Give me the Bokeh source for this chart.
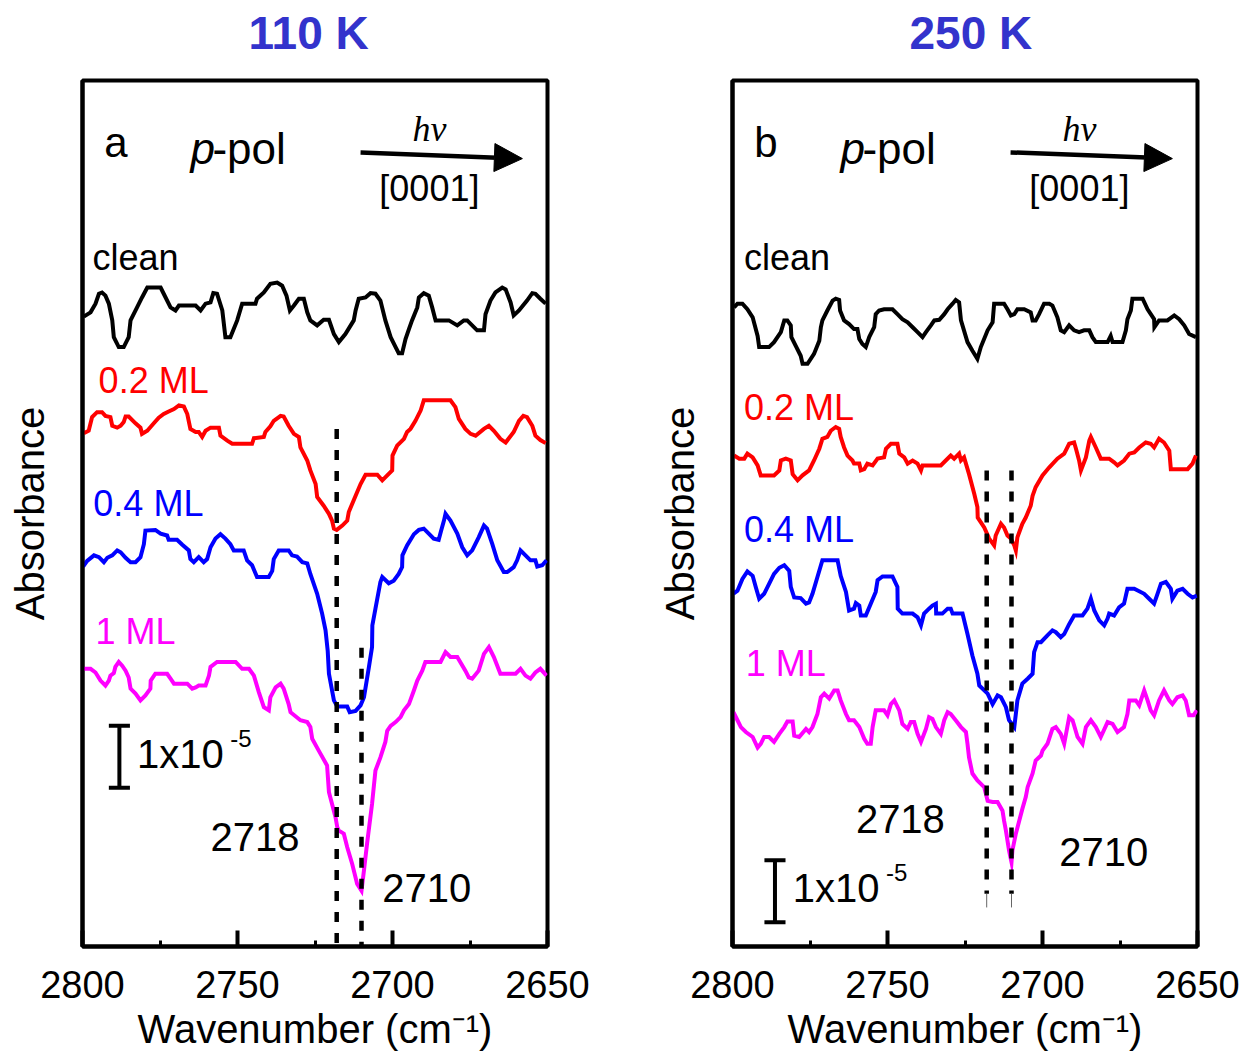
from bokeh.plotting import figure
from bokeh.layouts import row
from bokeh.models import Range1d, FixedTicker, Label, Arrow, NormalHead, Title
from bokeh.embed import file_html
from bokeh.resources import INLINE

# Absorbance is in units of 1e-6 (the scale bar spans 10 units = 1x10^-5);
# each spectrum already carries its vertical offset.

# ---------------- (a) 110 K ----------------
clean_a_wn = [2799.6, 2797.4, 2795.8, 2794.7, 2793.7, 2792.6, 2791.5, 2790.4, 2789.9, 2788.3,
              2786.7, 2785.1, 2784.5, 2782.4, 2780.8, 2779.1, 2774.8, 2773.8, 2771.6, 2770.0,
              2768.9, 2763.5, 2761.9, 2760.3, 2758.7, 2757.8, 2756.6, 2754.9, 2753.9, 2752.3,
              2750.1, 2748.5, 2744.2, 2743.7, 2741.5, 2739.4, 2737.2, 2735.6, 2734.2, 2733.1,
              2731.8, 2730.2, 2728.6, 2727.5, 2726.5, 2724.3, 2722.2, 2720.5, 2718.9, 2717.3,
              2715.2, 2712.5, 2711.9, 2710.9, 2708.7, 2707.1, 2705.5, 2703.9, 2702.3, 2700.6,
              2699.0, 2698.0, 2696.9, 2695.8, 2694.7, 2693.7, 2692.0, 2691.5, 2689.9, 2688.3,
              2687.2, 2686.1, 2681.8, 2679.1, 2677.0, 2675.9, 2672.7, 2670.5, 2670.0, 2668.4,
              2666.8, 2664.6, 2663.5, 2661.9, 2660.9, 2659.2, 2656.6, 2654.9, 2653.9, 2652.3,
              2650.6]
clean_a = [101.6, 102.3, 103.7, 105.3, 105.5, 105.0, 103.7, 101.0, 98.3, 96.7,
           96.7, 98.3, 101.0, 103.1, 104.7, 106.3, 106.3, 105.3, 103.1, 102.6,
           103.4, 103.4, 102.6, 103.7, 103.9, 105.4, 105.3, 102.6, 98.3, 98.3,
           101.0, 103.7, 103.7, 104.5, 105.5, 106.9, 107.1, 106.6, 105.0, 102.6,
           103.4, 104.5, 104.5, 102.3, 101.0, 100.2, 101.1, 101.1, 98.8, 97.5,
           98.8, 101.0, 102.6, 104.5, 104.7, 105.4, 105.3, 104.2, 101.0, 98.3,
           96.7, 95.7, 95.7, 98.0, 99.6, 101.0, 103.1, 104.7, 105.4, 105.0,
           103.1, 101.0, 101.0, 100.2, 101.0, 101.0, 99.4, 99.4, 102.0, 104.2,
           105.5, 106.3, 106.0, 103.9, 101.8, 102.6, 104.2, 105.4, 105.3, 104.5,
           103.7]

ml02_a_wn = [2799.6, 2798.0, 2796.9, 2795.3, 2793.7, 2792.6, 2791.0, 2790.4, 2788.8, 2787.7,
             2786.7, 2786.1, 2785.1, 2782.9, 2781.3, 2780.8, 2779.1, 2777.0, 2775.4, 2773.8,
             2772.2, 2770.5, 2768.9, 2767.3, 2766.2, 2765.2, 2763.5, 2762.5, 2761.4, 2760.3,
             2758.7, 2756.0, 2755.5, 2753.3, 2751.7, 2745.3, 2744.7, 2741.5, 2741.0, 2739.4,
             2738.3, 2736.1, 2735.1, 2733.5, 2731.8, 2730.2, 2729.7, 2727.5, 2726.5, 2724.8,
             2724.3, 2722.2, 2720.5, 2719.5, 2718.9, 2718.0, 2716.2, 2714.6, 2714.1, 2711.9,
             2710.3, 2708.7, 2704.9, 2703.3, 2701.7, 2700.1, 2700.0, 2698.5, 2696.3, 2695.3,
             2694.2, 2692.6, 2690.9, 2689.9, 2681.3, 2679.7, 2678.6, 2676.5, 2674.8, 2673.2,
             2670.5, 2668.9, 2667.3, 2665.2, 2663.5, 2660.9, 2659.2, 2657.8, 2656.6, 2654.9,
             2653.9, 2652.3, 2650.6]
ml02_a = [82.8, 83.2, 85.4, 86.2, 86.2, 85.6, 85.4, 84.0, 83.7, 84.0,
          84.6, 85.5, 85.5, 84.4, 83.7, 82.7, 83.2, 84.4, 85.3, 85.9,
          86.3, 86.7, 87.3, 87.1, 85.9, 83.5, 83.0, 83.0, 82.2, 83.2,
          83.7, 83.7, 82.4, 81.6, 81.1, 81.1, 82.0, 82.2, 83.0, 83.9,
          84.8, 85.6, 85.5, 84.0, 82.7, 82.2, 80.5, 78.4, 76.8, 74.6,
          72.5, 71.1, 69.8, 68.7, 67.4, 67.2, 67.9, 68.7, 70.1, 72.7,
          74.6, 76.1, 76.1, 75.2, 76.0, 76.8, 79.2, 80.8, 81.9, 83.0,
          83.5, 84.8, 86.5, 88.1, 88.1, 87.0, 85.1, 83.5, 82.7, 82.4,
          83.5, 84.0, 83.2, 81.9, 81.3, 83.0, 84.8, 85.6, 85.4, 84.0,
          82.4, 81.7, 81.2]

ml04_a_wn = [2799.8, 2798.5, 2796.3, 2794.7, 2793.1, 2792.0, 2790.4, 2788.8, 2787.7, 2786.1,
             2784.5, 2782.9, 2781.3, 2780.2, 2779.7, 2776.5, 2774.8, 2772.7, 2772.2, 2769.5,
             2767.8, 2765.7, 2765.2, 2764.1, 2762.5, 2760.9, 2759.8, 2758.7, 2757.1, 2755.5,
             2753.9, 2752.3, 2751.2, 2748.0, 2746.9, 2745.3, 2743.7, 2739.9, 2738.8, 2738.3,
             2736.7, 2733.5, 2732.4, 2730.8, 2729.1, 2727.5, 2726.5, 2724.3, 2722.7, 2721.6,
             2720.9, 2720.5, 2718.9, 2717.8, 2714.6, 2713.8, 2711.9, 2710.3, 2709.2, 2707.6,
             2706.6, 2706.5, 2705.5, 2703.9, 2703.3, 2701.2, 2699.6, 2698.0, 2696.9, 2696.8,
             2695.3, 2693.1, 2691.5, 2689.9, 2688.3, 2686.7, 2685.1, 2684.3, 2683.4, 2682.9,
             2681.3, 2679.1, 2677.5, 2675.9, 2674.3, 2672.2, 2670.5, 2669.5, 2667.8, 2666.2,
             2664.1, 2663.0, 2660.9, 2659.8, 2658.7, 2657.1, 2655.5, 2653.9, 2653.3, 2651.7,
             2650.3]
ml04_a = [61.3, 62.2, 63.1, 62.8, 62.0, 62.7, 63.1, 63.9, 63.6, 62.7,
          62.0, 62.0, 62.8, 64.9, 67.1, 67.2, 66.6, 66.3, 65.6, 65.6,
          64.8, 63.9, 62.5, 62.0, 62.8, 62.0, 62.5, 64.4, 65.8, 66.5,
          65.8, 64.9, 63.9, 63.9, 62.3, 61.5, 59.6, 59.6, 60.6, 62.5,
          63.9, 63.9, 63.1, 62.9, 62.0, 61.8, 60.1, 56.9, 53.7, 51.0,
          47.7, 44.0, 39.7, 38.7, 38.7, 37.8, 38.0, 38.9, 40.2, 45.1,
          48.3, 51.8, 54.5, 58.8, 59.6, 58.6, 59.0, 60.1, 61.2, 63.1,
          64.7, 66.5, 67.2, 67.4, 66.6, 65.8, 65.6, 67.1, 68.7, 69.8,
          68.7, 66.6, 64.4, 63.1, 63.9, 66.0, 67.9, 67.4, 64.9, 62.3,
          60.4, 60.4, 61.2, 62.3, 63.9, 63.1, 62.3, 62.3, 61.3, 61.5,
          62.3]

ml1_a_wn = [2799.8, 2797.4, 2795.8, 2794.2, 2792.6, 2791.5, 2791.0, 2789.9, 2789.4, 2788.3,
            2787.2, 2786.1, 2785.1, 2784.5, 2782.9, 2781.3, 2779.7, 2778.1, 2778.0, 2776.5,
            2772.7, 2771.6, 2770.5, 2766.2, 2764.6, 2763.5, 2762.5, 2760.3, 2759.2, 2758.7,
            2756.6, 2750.6, 2748.5, 2746.3, 2744.7, 2743.1, 2741.5, 2739.9, 2739.4, 2737.7,
            2736.1, 2735.1, 2733.5, 2732.9, 2729.7, 2727.5, 2726.5, 2725.9, 2723.8, 2721.1,
            2720.5, 2718.4, 2717.8, 2717.3, 2715.7, 2714.6, 2713.0, 2711.4, 2710.0, 2709.2,
            2708.2, 2706.6, 2705.5, 2703.9, 2702.3, 2701.7, 2700.6, 2699.0, 2697.4, 2696.3,
            2694.7, 2693.1, 2692.0, 2690.4, 2689.4, 2684.5, 2682.9, 2681.3, 2679.1, 2676.5,
            2675.4, 2674.3, 2672.2, 2670.5, 2668.9, 2667.3, 2665.2, 2660.3, 2658.7, 2657.1,
            2655.5, 2653.9, 2652.3, 2650.3]
ml1_a = [44.8, 44.8, 44.2, 42.9, 42.1, 42.9, 43.7, 44.1, 45.1, 45.9,
         45.3, 44.5, 43.4, 41.6, 40.8, 39.7, 40.5, 41.6, 42.9, 44.0,
         44.0, 43.2, 42.4, 42.4, 41.6, 41.8, 42.1, 42.1, 43.7, 45.1,
         45.9, 45.9, 44.8, 44.8, 43.7, 41.0, 38.6, 38.1, 40.2, 41.8,
         42.4, 41.6, 39.1, 37.8, 36.5, 36.2, 35.4, 33.5, 31.6, 29.2,
         24.9, 20.9, 19.2, 18.7, 18.2, 16.0, 13.3, 10.1, 9.0, 12.3,
         16.6, 23.0, 28.4, 30.5, 33.0, 34.8, 35.6, 36.2, 37.0, 38.1,
         39.1, 41.3, 42.9, 44.5, 45.9, 45.9, 47.5, 46.7, 46.7, 44.5,
         43.4, 43.2, 44.5, 47.2, 48.3, 46.7, 44.0, 44.0, 44.8, 43.7,
         43.2, 44.2, 44.8, 43.7]

# ---------------- (b) 250 K ----------------
clean_b_wn = [2799.5, 2798.4, 2796.8, 2795.2, 2793.5, 2791.9, 2791.4, 2788.2, 2786.6, 2784.4,
              2783.3, 2782.3, 2781.2, 2781.0, 2779.6, 2778.0, 2777.4, 2775.8, 2773.7, 2772.0,
              2771.5, 2771.0, 2769.4, 2767.7, 2766.7, 2765.6, 2765.3, 2764.0, 2762.4, 2760.8,
              2759.7, 2759.1, 2758.1, 2757.0, 2755.9, 2754.3, 2753.8, 2752.7, 2751.1, 2748.4,
              2746.8, 2745.2, 2743.5, 2741.9, 2740.3, 2738.7, 2737.6, 2736.0, 2734.9, 2733.3,
              2731.7, 2730.6, 2729.0, 2728.0, 2726.9, 2726.3, 2724.2, 2722.6, 2721.0, 2719.9,
              2717.7, 2716.1, 2715.6, 2712.4, 2711.3, 2710.2, 2709.1, 2708.1, 2705.9, 2703.8,
              2703.2, 2702.2, 2701.1, 2699.5, 2697.8, 2696.8, 2695.2, 2694.1, 2693.0, 2691.4,
              2689.8, 2688.2, 2686.6, 2684.9, 2683.9, 2682.8, 2679.0, 2678.0, 2677.4, 2674.2,
              2673.1, 2672.6, 2671.5, 2671.0, 2667.7, 2666.1, 2664.0, 2663.9, 2662.4, 2659.7,
              2657.5, 2655.9, 2654.3, 2652.7, 2650.5]
clean_b = [103.1, 103.7, 103.7, 102.8, 101.5, 98.5, 96.7, 96.7, 97.5, 99.1,
           101.0, 101.0, 100.2, 98.3, 96.9, 95.3, 94.0, 94.0, 95.6, 97.7,
           99.9, 101.0, 102.6, 104.2, 104.5, 104.3, 102.6, 101.0, 100.4, 99.6,
           99.6, 98.0, 97.2, 96.7, 98.3, 99.9, 102.0, 102.6, 102.8, 102.8,
           102.0, 101.2, 100.7, 99.9, 99.1, 98.3, 99.1, 100.2, 101.0, 101.1,
           102.0, 102.8, 103.7, 104.3, 103.9, 101.0, 97.5, 96.1, 94.8, 96.7,
           99.4, 100.7, 103.7, 103.7, 102.8, 101.8, 102.0, 102.8, 102.8, 102.3,
           101.0, 101.0, 102.0, 103.7, 103.7, 103.4, 101.5, 99.4, 99.1, 100.2,
           99.4, 99.1, 99.4, 99.4, 98.3, 97.5, 97.5, 98.5, 97.5, 97.5,
           99.4, 101.2, 102.6, 104.5, 104.5, 102.8, 101.2, 99.9, 101.0, 101.0,
           101.8, 101.2, 100.2, 98.8, 98.3]

ml02_b_wn = [2799.5, 2797.8, 2796.2, 2795.2, 2793.5, 2791.9, 2790.9, 2786.6, 2784.9, 2784.4,
             2782.8, 2781.2, 2780.6, 2779.0, 2777.4, 2775.3, 2773.7, 2772.0, 2771.0, 2769.4,
             2768.3, 2766.7, 2765.6, 2765.1, 2764.0, 2762.9, 2761.3, 2760.8, 2759.1, 2758.6,
             2757.5, 2756.5, 2754.8, 2753.2, 2751.1, 2750.5, 2748.9, 2746.8, 2746.2, 2744.6,
             2743.5, 2741.9, 2740.3, 2739.2, 2738.7, 2732.8, 2731.2, 2729.6, 2728.5, 2726.9,
             2726.3, 2725.3, 2723.7, 2722.0, 2721.0, 2720.9, 2718.8, 2717.2, 2715.6, 2715.1,
             2713.4, 2712.4, 2711.3, 2710.2, 2709.1, 2708.6, 2708.1, 2706.5, 2705.4, 2703.8,
             2703.2, 2702.2, 2700.0, 2697.8, 2695.2, 2693.0, 2691.4, 2689.8, 2689.2, 2688.2,
             2687.6, 2686.0, 2684.9, 2684.4, 2682.8, 2681.2, 2678.5, 2676.9, 2675.8, 2673.7,
             2672.0, 2670.4, 2668.8, 2666.7, 2665.1, 2664.0, 2662.4, 2660.8, 2659.1, 2658.6,
             2653.2, 2651.6, 2650.5]
ml02_b = [79.2, 78.7, 78.7, 79.5, 78.9, 77.6, 76.0, 76.0, 76.8, 78.4,
          78.7, 78.4, 76.2, 75.2, 76.0, 76.8, 78.4, 80.3, 81.9, 82.2,
          83.2, 83.8, 83.5, 82.2, 80.5, 79.2, 78.4, 77.9, 77.9, 76.8,
          77.0, 77.9, 77.6, 78.7, 78.9, 80.3, 81.1, 81.1, 79.5, 78.9,
          77.9, 78.4, 77.9, 76.8, 77.6, 77.6, 78.4, 79.2, 78.7, 79.5,
          78.4, 78.9, 76.2, 73.0, 70.9, 69.2, 67.6, 65.8, 64.7, 66.3,
          68.2, 67.6, 66.3, 65.8, 64.7, 63.9, 66.0, 68.2, 69.2, 71.1,
          72.7, 74.1, 76.0, 77.3, 78.7, 79.5, 81.1, 81.3, 80.3, 78.4,
          76.8, 78.9, 81.6, 82.2, 80.5, 78.7, 78.7, 78.1, 77.6, 78.4,
          79.5, 79.7, 80.5, 81.3, 81.1, 80.5, 81.9, 81.3, 80.0, 77.0,
          77.0, 77.9, 79.2]

ml04_b_wn = [2799.7, 2798.4, 2796.8, 2795.2, 2793.5, 2792.5, 2791.4, 2789.8, 2788.2, 2786.6,
             2784.9, 2783.3, 2781.7, 2781.2, 2780.1, 2778.0, 2776.3, 2775.3, 2774.2, 2772.6,
             2771.0, 2766.1, 2765.1, 2763.4, 2762.4, 2760.8, 2760.2, 2759.1, 2758.6, 2757.0,
             2755.4, 2753.8, 2753.2, 2751.6, 2748.4, 2746.8, 2746.7, 2745.2, 2741.9, 2740.3,
             2739.2, 2738.2, 2736.6, 2735.5, 2734.4, 2734.3, 2732.3, 2730.6, 2729.6, 2729.0,
             2725.8, 2724.2, 2722.6, 2721.0, 2720.4, 2717.7, 2716.1, 2714.5, 2713.4, 2711.8,
             2710.8, 2709.1, 2708.6, 2708.1, 2706.5, 2704.8, 2703.2, 2702.7, 2701.6, 2700.5,
             2698.4, 2696.8, 2695.7, 2694.1, 2693.0, 2691.4, 2689.8, 2687.1, 2685.5, 2684.4,
             2683.3, 2681.7, 2680.1, 2679.0, 2678.5, 2676.9, 2675.3, 2673.7, 2672.6, 2670.4,
             2667.2, 2665.6, 2664.0, 2662.9, 2661.8, 2660.2, 2658.6, 2658.1, 2656.5, 2654.8,
             2653.2, 2651.6, 2650.2]
ml04_b = [56.9, 57.4, 59.3, 60.5, 59.8, 58.0, 56.1, 56.9, 58.5, 60.1,
          61.1, 61.5, 60.6, 58.0, 56.3, 56.2, 55.3, 55.5, 56.9, 59.6,
          62.3, 62.3, 59.8, 57.2, 54.2, 54.5, 55.4, 55.0, 53.4, 53.4,
          55.3, 57.2, 59.1, 59.7, 59.7, 58.0, 54.5, 53.7, 53.7, 53.1,
          51.8, 53.7, 54.5, 55.0, 55.3, 53.7, 53.7, 54.5, 54.5, 53.7,
          53.7, 50.4, 46.9, 44.0, 42.1, 40.8, 39.1, 40.5, 40.2, 38.6,
          36.5, 35.4, 37.5, 39.7, 42.4, 43.2, 44.0, 47.5, 49.1, 49.1,
          50.2, 51.0, 50.7, 49.9, 50.4, 52.0, 53.4, 53.4, 54.5, 56.1,
          54.2, 52.6, 51.8, 52.9, 53.7, 53.4, 54.7, 55.3, 57.7, 57.7,
          56.9, 56.1, 55.3, 56.9, 58.5, 58.8, 57.7, 56.1, 57.4, 57.7,
          56.9, 56.3, 56.6]

ml1_b_wn = [2799.7, 2798.4, 2797.3, 2795.7, 2793.5, 2791.9, 2790.9, 2789.8, 2788.2, 2786.6,
            2784.9, 2783.3, 2782.3, 2780.6, 2780.1, 2778.5, 2776.3, 2775.3, 2774.2, 2772.6,
            2771.5, 2770.4, 2768.8, 2767.2, 2766.1, 2765.1, 2763.4, 2762.4, 2760.8, 2759.1,
            2757.5, 2756.5, 2755.4, 2754.8, 2753.8, 2751.1, 2750.0, 2748.9, 2747.8, 2746.2,
            2745.2, 2743.5, 2742.5, 2741.4, 2740.3, 2739.2, 2737.6, 2736.6, 2735.5, 2734.4,
            2732.8, 2731.7, 2730.6, 2729.6, 2728.0, 2726.3, 2724.7, 2724.2, 2723.7, 2722.6,
            2721.0, 2718.8, 2717.7, 2716.1, 2714.5, 2712.9, 2712.4, 2711.8, 2710.8, 2710.0,
            2709.7, 2708.6, 2707.5, 2706.5, 2705.4, 2704.8, 2703.2, 2702.2, 2700.5, 2700.0,
            2698.4, 2696.8, 2695.7, 2694.1, 2693.0, 2691.4, 2690.3, 2688.7, 2687.1, 2686.0,
            2684.4, 2682.8, 2681.2, 2679.0, 2677.4, 2675.8, 2673.7, 2672.6, 2672.0, 2669.9,
            2668.8, 2667.2, 2666.1, 2665.1, 2664.0, 2662.4, 2660.8, 2659.1, 2658.1, 2656.5,
            2654.8, 2653.8, 2652.7, 2651.3, 2650.2]
ml1_b = [37.8, 36.5, 35.4, 34.6, 33.8, 32.1, 32.7, 33.8, 33.8, 33.0,
         34.3, 35.4, 36.3, 36.3, 34.0, 33.8, 35.1, 34.6, 35.4, 37.5,
         40.2, 40.8, 40.0, 41.3, 41.3, 39.7, 37.5, 36.5, 36.5, 35.4,
         33.5, 32.7, 32.7, 35.4, 38.1, 38.1, 37.3, 39.1, 39.7, 38.1,
         35.9, 35.1, 36.2, 36.2, 34.3, 33.0, 35.1, 37.0, 36.7, 35.4,
         34.3, 36.5, 37.8, 37.5, 36.5, 35.4, 34.6, 32.7, 30.5, 27.9,
         26.8, 25.7, 23.5, 23.3, 23.3, 21.9, 20.3, 18.7, 15.5, 13.6,
         15.5, 18.2, 20.3, 22.2, 24.1, 25.7, 27.9, 30.0, 30.8, 31.6,
         32.7, 35.1, 35.4, 34.3, 32.7, 37.0, 36.5, 33.8, 32.7, 35.4,
         36.5, 35.4, 33.8, 36.2, 35.9, 34.6, 35.4, 37.5, 39.7, 39.7,
         38.9, 41.3, 39.7, 38.1, 37.3, 39.7, 41.3, 39.7, 39.1, 40.2,
         40.5, 39.7, 37.3, 37.3, 38.1]

# Shared axis settings
wn_ticks = [2800, 2750, 2700, 2650]
wn_minor = [2775, 2725, 2675]
peak_wn = [2718, 2710]
series_names = ["clean", "0.2 ML", "0.4 ML", "1 ML"]
series_colors = ["#000000", "#ff0000", "#0000ff", "#ff00ff"]

FONT = "Liberation Sans"


def text(p, x, y, s, size, color="black", align="left", baseline="alphabetic",
         font=FONT, style="normal"):
    p.add_layout(Label(x=x, y=y, text=s, text_font=font, text_font_size=size,
                       text_color=color, text_align=align, text_baseline=baseline,
                       text_font_style=style))


def panel(title, title_offset, letter, curves, name_pos, bar, peak_pos, dash_top, dash_bottom,
          width, border_left):
    p = figure(frame_width=465, frame_height=866, width=width,
               x_range=Range1d(2800, 2650), y_range=Range1d(0, 139.7),
               output_backend="svg", toolbar_location=None,
               min_border_left=border_left, min_border_right=width - border_left - 465,
               min_border_top=80, min_border_bottom=109,
               background_fill_color="white", border_fill_color="white")
    p.grid.visible = False
    p.outline_line_color = "black"
    p.outline_line_width = 4
    p.outline_line_alpha = 1

    # temperature heading, kept clear of the frame by an empty spacer line
    p.title.text = title
    p.title.align = "left"
    p.title.offset = title_offset
    p.title.text_font = FONT
    p.title.text_font_size = "46px"
    p.title.text_font_style = "bold"
    p.title.text_color = "#3333cc"
    p.title.standoff = 0
    p.add_layout(Title(text=" ", text_font_size="18px", standoff=0), "above")

    xa = p.xaxis[0]
    xa.ticker = FixedTicker(ticks=wn_ticks, minor_ticks=wn_minor)
    xa.axis_line_width = 4
    xa.major_tick_in = 16
    xa.major_tick_out = 0
    xa.major_tick_line_width = 4
    xa.minor_tick_in = 6
    xa.minor_tick_out = 0
    xa.minor_tick_line_width = 3
    xa.major_label_text_font = FONT
    xa.major_label_text_font_size = "38px"
    xa.major_label_text_color = "black"
    xa.major_label_standoff = 24
    xa.axis_label = "Wavenumber (cm\u207b\u00b9)"
    xa.axis_label_text_font = FONT
    xa.axis_label_text_font_size = "40px"
    xa.axis_label_text_font_style = "normal"
    xa.axis_label_text_color = "black"
    xa.axis_label_standoff = 6

    ya = p.yaxis[0]
    ya.ticker = FixedTicker(ticks=[])
    ya.axis_line_width = 4
    ya.major_tick_line_color = None
    ya.minor_tick_line_color = None
    ya.major_label_text_font_size = "0px"
    ya.major_label_standoff = 0
    ya.axis_label = "Absorbance"
    ya.axis_label_text_font = FONT
    ya.axis_label_text_font_size = "40px"
    ya.axis_label_text_font_style = "normal"
    ya.axis_label_text_color = "black"
    ya.axis_label_standoff = 31

    # spectra
    for (wn, ab), c in zip(curves, series_colors):
        p.line(wn, ab, line_color=c, line_width=4, line_join="miter")

    # peak markers
    for wn0, top, bot in zip(peak_wn, dash_top, dash_bottom):
        p.line([wn0, wn0], [top, bot], line_color="black", line_width=4.5, line_dash="10 11")

    # header: panel letter, polarisation and beam direction
    text(p, 2793.0, 129.7, letter, "42px")
    text(p, 2765.2, 128.7, "p", "44px", style="italic")
    text(p, 2758.1, 128.7, "-pol", "44px")
    p.add_layout(Arrow(end=NormalHead(size=28, fill_color="black", line_color="black"),
                       x_start=2710.3, y_start=128.1, x_end=2658.1, y_end=127.1,
                       line_width=4.5, line_color="black"))
    text(p, 2688.1, 131.8, "h\u03bd", "36px", align="center", font="Liberation Serif",
         style="italic")
    text(p, 2688.1, 122.3, "[0001]", "36px", align="center")

    # series names
    for s, c, (x, y) in zip(series_names, series_colors, name_pos):
        text(p, x, y, s, "36px", color=c)

    # scale bar 1x10^-5 (10 units)
    bx, by0 = bar
    p.line([bx, bx], [by0, by0 + 10], line_color="black", line_width=4)
    p.line([bx - 3.4, bx + 3.4], [by0, by0], line_color="black", line_width=4)
    p.line([bx - 3.4, bx + 3.4], [by0 + 10, by0 + 10], line_color="black", line_width=4)
    text(p, bx - 5.7, by0 + 5.5, "1x10", "40px")
    text(p, bx - 35.8, by0 + 8.0, "-5", "24px")

    # peak labels
    for s, (x, y) in zip(["2718", "2710"], peak_pos):
        text(p, x, y, s, "40px")
    return p


pa = panel("110 K", 166, "a",
           [(clean_a_wn, clean_a), (ml02_a_wn, ml02_a), (ml04_a_wn, ml04_a), (ml1_a_wn, ml1_a)],
           [(2796.8, 111.1), (2794.8, 91.3), (2796.5, 71.5), (2795.8, 50.8)],
           (2788.1, 25.6),
           [(2758.7, 17.6), (2703.3, 9.5)],
           [83.5, 48.2], [0.0, 0.0],
           width=607, border_left=82)

pb = panel("250 K", 177, "b",
           [(clean_b_wn, clean_b), (ml02_b_wn, ml02_b), (ml04_b_wn, ml04_b), (ml1_b_wn, ml1_b)],
           [(2796.3, 111.1), (2796.3, 87.0), (2796.3, 67.2), (2795.7, 45.6)],
           (2786.3, 3.9),
           [(2760.2, 20.5), (2694.6, 15.2)],
           [76.8, 76.8], [8.5, 8.5],
           width=642, border_left=125)
# faint continuation of the marker lines below the dashes
for wn0 in peak_wn:
    pb.line([wn0, wn0], [8.5, 6.3], line_color="#666666", line_width=1)

layout = row(pa, pb)
open("out.html", "w").write(file_html(layout, INLINE))
